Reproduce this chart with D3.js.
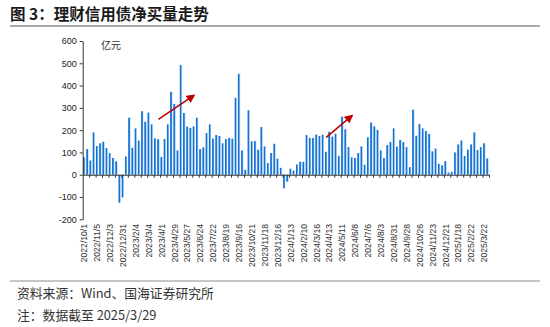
<!DOCTYPE html>
<html><head><meta charset="utf-8">
<script src="https://cdn.jsdelivr.net/npm/d3@7"></script>
<style>body{margin:0;background:#fff}svg{display:block}</style>
</head><body>
<script>
const dates = ["2022/10/1","2022/10/15","2022/10/22","2022/10/29","2022/11/5","2022/11/12","2022/11/19","2022/11/26","2022/12/3","2022/12/10","2022/12/17","2022/12/24","2022/12/31","2023/1/7","2023/1/14","2023/1/21","2023/2/4","2023/2/11","2023/2/18","2023/2/25","2023/3/4","2023/3/11","2023/3/18","2023/3/25","2023/4/1","2023/4/8","2023/4/15","2023/4/22","2023/4/29","2023/5/6","2023/5/13","2023/5/20","2023/5/27","2023/6/3","2023/6/10","2023/6/17","2023/6/24","2023/7/1","2023/7/8","2023/7/15","2023/7/22","2023/7/29","2023/8/5","2023/8/12","2023/8/19","2023/8/26","2023/9/2","2023/9/9","2023/9/16","2023/9/23","2023/9/30","2023/10/14","2023/10/21","2023/10/28","2023/11/4","2023/11/11","2023/11/18","2023/11/25","2023/12/2","2023/12/9","2023/12/16","2023/12/23","2023/12/30","2024/1/6","2024/1/13","2024/1/20","2024/1/27","2024/2/3","2024/2/10","2024/2/24","2024/3/2","2024/3/9","2024/3/16","2024/3/23","2024/3/30","2024/4/6","2024/4/13","2024/4/20","2024/4/27","2024/5/4","2024/5/11","2024/5/18","2024/5/25","2024/6/1","2024/6/8","2024/6/15","2024/6/22","2024/6/29","2024/7/6","2024/7/13","2024/7/20","2024/7/27","2024/8/3","2024/8/10","2024/8/17","2024/8/24","2024/8/31","2024/9/7","2024/9/14","2024/9/21","2024/9/28","2024/10/5","2024/10/12","2024/10/19","2024/10/26","2024/11/2","2024/11/9","2024/11/16","2024/11/23","2024/11/30","2024/12/7","2024/12/14","2024/12/21","2024/12/28","2025/1/4","2025/1/11","2025/1/18","2025/1/25","2025/2/8","2025/2/15","2025/2/22","2025/3/1","2025/3/8","2025/3/15","2025/3/22","2025/3/29"];
const netBuy = [78,115,64,190,129,141,148,120,97,75,
60,-126,-102,82,256,121,208,153,285,238,
279,226,163,159,79,160,226,372,318,109,
492,277,216,210,217,256,115,123,187,226,
162,178,174,141,160,165,162,345,453,109,
22,289,150,151,112,214,127,52,97,139,
72,31,-61,-31,27,19,46,58,58,178,
165,165,180,174,180,103,193,171,184,84,
261,204,124,78,75,97,127,45,168,234,
217,201,109,75,133,147,208,126,156,147,
124,34,292,175,228,208,196,183,105,118,
49,42,61,10,13,100,136,154,84,112,
136,190,111,124,141,73];
const yTicks = [-200,-100,0,100,200,300,400,500,600];
const labelEvery = 4;
// trend arrows: [startDate, startValue, endDate, endValue]
const arrows = [["2023/3/25",248,"2023/6/10",356],["2024/4/6",168,"2024/6/1",265]];

const W=550,H=327;
const svg=d3.select("body").append("svg").attr("width",W).attr("height",H);
const defs=svg.append("defs");
const g1=defs.append("linearGradient").attr("id","bg").attr("x1","0").attr("x2","1").attr("y1","0").attr("y2","0");
g1.append("stop").attr("offset","0%").attr("stop-color","#1268cc");
g1.append("stop").attr("offset","55%").attr("stop-color","#1776d6");
g1.append("stop").attr("offset","75%").attr("stop-color","#94c6f0");
g1.append("stop").attr("offset","100%").attr("stop-color","#b8dcf7");
defs.append("marker").attr("id","ah").attr("viewBox","0 0 10 10").attr("refX",8).attr("refY",5)
 .attr("markerWidth",5.5).attr("markerHeight",5.5).attr("orient","auto")
 .append("path").attr("d","M0,0L10,5L0,10Z").attr("fill","#c00000");

const cjk='"Noto Sans CJK SC","Noto Sans",sans-serif';
// title
svg.append("text").attr("x",10).attr("y",19.5).attr("font-family",cjk).attr("font-size",15.5)
 .attr("font-weight","bold").attr("fill","#1a1a1a").text("图 3：理财信用债净买量走势");
svg.append("line").attr("x1",10).attr("x2",540).attr("y1",26).attr("y2",26).attr("stroke","#8c8c8c").attr("stroke-width",1.5);

const x=d3.scaleBand().domain(dates).range([82.7,489]).paddingInner(0.28).paddingOuter(0.1);
const xi=d3.scaleLinear().domain([0,dates.length]).range([82.7,489]);
const y=d3.scaleLinear().domain([-200,600]).range([219.3,41]);

svg.append("g").selectAll("rect").data(netBuy).join("rect")
 .attr("x",(d,i)=>x(dates[i])).attr("width",x.bandwidth())
 .attr("y",d=>y(Math.max(0,d))).attr("height",d=>Math.abs(y(d)-y(0)))
 .attr("fill","url(#bg)");

// y axis
const ya=svg.append("g").attr("transform","translate(82.7,0)")
 .call(d3.axisLeft(y).tickValues(yTicks).tickSize(3).tickSizeOuter(0).tickPadding(3).tickFormat(d=>String(d)));
ya.selectAll("text").attr("font-family","Liberation Sans, Arial, sans-serif").attr("font-size",9).attr("fill","#222");
ya.selectAll("line,path").attr("stroke","#333");

// x axis at zero
const evenTicks=d3.range(2,dates.length+1,2);
const xa=svg.append("g").attr("transform",`translate(0,${y(0)})`)
 .call(d3.axisBottom(xi).tickValues(evenTicks).tickSize(3).tickSizeOuter(0).tickFormat(""));
xa.selectAll("line,path").attr("stroke","#333");

// category labels
svg.append("g").selectAll("text").data(dates.filter((d,i)=>i%labelEvery===0)).join("text")
 .attr("transform",d=>`translate(${x(d)+x.bandwidth()/2},224) rotate(-90)`)
 .attr("dy","0.35em").attr("text-anchor","end")
 .attr("font-family","Liberation Sans, Arial, sans-serif").attr("font-size",8.6).attr("fill","#333").text(d=>d);

// unit
svg.append("text").attr("x",101).attr("y",49).attr("font-family",cjk).attr("font-size",10).attr("fill","#333").text("亿元");

// arrows
svg.append("g").selectAll("line").data(arrows).join("line")
 .attr("x1",d=>x(d[0])+x.bandwidth()/2).attr("y1",d=>y(d[1]))
 .attr("x2",d=>x(d[2])+x.bandwidth()/2).attr("y2",d=>y(d[3]))
 .attr("stroke","#c00000").attr("stroke-width",1.6).attr("marker-end","url(#ah)");

// footer
svg.append("line").attr("x1",10).attr("x2",540).attr("y1",281).attr("y2",281).attr("stroke","#8c8c8c").attr("stroke-width",1);
svg.append("text").attr("x",17).attr("y",297.5).attr("font-family",cjk).attr("font-size",12.8).attr("fill","#333").text("资料来源：Wind、国海证券研究所");
svg.append("text").attr("x",17).attr("y",320).attr("font-family",cjk).attr("font-size",12.8).attr("fill","#333").text("注：数据截至 2025/3/29");
</script>
</body></html>
